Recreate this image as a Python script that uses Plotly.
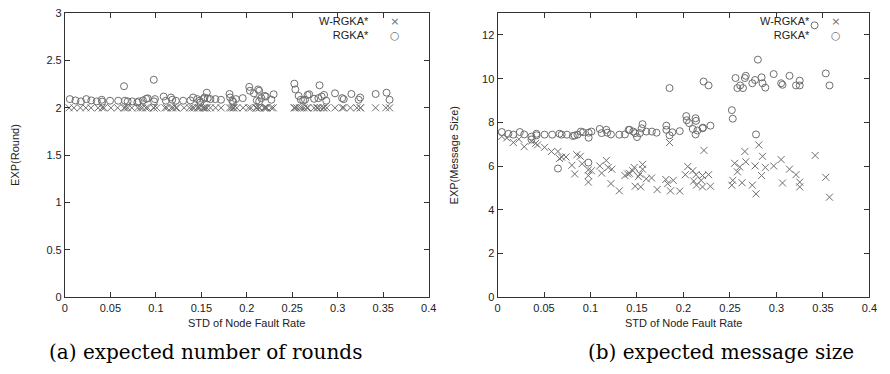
import plotly.graph_objects as go

# ---------------- data ----------------
# (a) expected number of rounds
rounds_rgka_x = [0.0054, 0.0116, 0.0177, 0.0235, 0.029, 0.035, 0.0405, 0.041, 0.0496, 0.0586,
                 0.065, 0.066, 0.069, 0.074, 0.0796, 0.081, 0.0858, 0.0894, 0.091, 0.0977,
                 0.098, 0.099, 0.1086, 0.111, 0.1166, 0.118, 0.122, 0.130, 0.138, 0.141,
                 0.1455, 0.148, 0.149, 0.152, 0.1535, 0.156, 0.157, 0.160, 0.1655, 0.1716,
                 0.181, 0.1817, 0.184, 0.185, 0.188, 0.1955, 0.2027, 0.2034, 0.2078, 0.211,
                 0.2125, 0.2136, 0.2136, 0.216, 0.2197, 0.221, 0.227, 0.2295, 0.2523, 0.2534,
                 0.257, 0.2595, 0.262, 0.264, 0.2668, 0.2686, 0.274, 0.2787, 0.280, 0.2823,
                 0.285, 0.2874, 0.297, 0.3048, 0.3066, 0.315, 0.323, 0.3247, 0.3417, 0.3537,
                 0.357]
rounds_rgka_y = [2.092, 2.078, 2.068, 2.092, 2.078, 2.068, 2.085, 2.065, 2.075, 2.075,
                 2.228, 2.075, 2.068, 2.068, 2.058, 2.068, 2.078, 2.095, 2.100, 2.296,
                 2.068, 2.092, 2.119, 2.075, 2.109, 2.085, 2.075, 2.075, 2.078, 2.109,
                 2.092, 2.075, 2.058, 2.092, 2.109, 2.160, 2.100, 2.092, 2.092, 2.085,
                 2.146, 2.109, 2.075, 2.065, 2.092, 2.102, 2.221, 2.180, 2.153, 2.078,
                 2.194, 2.180, 2.068, 2.102, 2.126, 2.119, 2.085, 2.143, 2.255, 2.194,
                 2.126, 2.085, 2.078, 2.085, 2.136, 2.143, 2.095, 2.102, 2.238, 2.119,
                 2.136, 2.075, 2.153, 2.102, 2.092, 2.146, 2.085, 2.109, 2.146, 2.160,
                 2.085]

# W-RGKA* shares the same experiment positions in both panels
wrgka_x = [0.0046, 0.0099, 0.017, 0.023, 0.0287, 0.0365, 0.041, 0.043, 0.0506, 0.058,
           0.065, 0.0666, 0.069, 0.0736, 0.080, 0.083, 0.0853, 0.089, 0.091, 0.0977,
           0.0977, 0.0977, 0.101, 0.110, 0.112, 0.117, 0.119, 0.123, 0.122, 0.131,
           0.137, 0.140, 0.142, 0.1455, 0.147, 0.148, 0.1515, 0.153, 0.154, 0.156,
           0.156, 0.160, 0.1657, 0.1717, 0.181, 0.183, 0.185, 0.186, 0.189, 0.196,
           0.202, 0.2046, 0.210, 0.211, 0.2135, 0.214, 0.219, 0.2205, 0.2205, 0.222,
           0.227, 0.229, 0.252, 0.253, 0.255, 0.258, 0.2605, 0.263, 0.266, 0.267,
           0.274, 0.277, 0.278, 0.281, 0.285, 0.284, 0.288, 0.297, 0.305, 0.3065,
           0.314, 0.321, 0.325, 0.325, 0.3416, 0.353, 0.357]
rounds_wrgka_y = [2.0, 2.0, 2.0, 2.0, 2.0, 2.0, 2.0, 2.0, 2.0, 2.0,
                  2.0, 2.0, 2.0, 2.0, 2.0, 2.0, 2.0, 2.0, 2.0, 2.0,
                  2.0, 2.0, 2.0, 2.0, 2.0, 2.0, 2.0, 2.0, 2.0, 2.0,
                  2.0, 2.0, 2.0, 2.0, 2.0, 2.0, 2.0, 2.0, 2.0, 2.0,
                  2.0, 2.0, 2.0, 2.0, 2.0, 2.0, 2.0, 2.0, 2.0, 2.0,
                  2.0, 2.0, 2.0, 2.0, 2.0, 2.0, 2.0, 2.0, 2.0, 2.0,
                  2.0, 2.0, 2.0, 2.0, 2.0, 2.0, 2.0, 2.0, 2.0, 2.0,
                  2.0, 2.0, 2.0, 2.0, 2.0, 2.0, 2.0, 2.0, 2.0, 2.0,
                  2.0, 2.0, 2.0, 2.0, 2.0, 2.0, 2.0]

# (b) expected message size
msg_wrgka_y = [7.36, 7.29, 7.08, 7.23, 6.89, 7.14, 7.04, 6.97, 6.86, 6.67,
               6.67, 6.35, 6.41, 6.42, 6.04, 5.64, 6.52, 6.45, 6.11, 5.83,
               5.57, 5.27, 5.79, 6.01, 5.68, 6.26, 5.94, 5.86, 5.20, 4.87,
               5.57, 5.64, 5.67, 5.79, 5.94, 5.08, 5.52, 5.64, 5.05, 5.86,
               6.08, 5.42, 5.46, 4.93, 5.39, 5.20, 7.08, 4.87, 5.35, 4.86,
               5.61, 5.98, 5.79, 5.32, 5.61, 5.13, 5.35, 5.57, 5.05, 6.72,
               5.61, 5.08, 5.13, 5.35, 6.13, 5.74, 5.96, 5.24, 6.67, 6.20,
               5.13, 6.01, 4.73, 6.97, 6.45, 5.57, 5.94, 6.01, 6.30, 5.23,
               5.86, 5.61, 5.27, 5.05, 6.49, 5.49, 4.58]

msg_rgka_x = [0.0046, 0.0117, 0.017, 0.024, 0.0287, 0.0365, 0.0365, 0.0418, 0.042, 0.0506,
              0.0588, 0.0666, 0.069, 0.0747, 0.081, 0.083, 0.086, 0.0896, 0.092, 0.098,
              0.098, 0.101, 0.110, 0.112, 0.117, 0.118, 0.122, 0.131, 0.137, 0.141,
              0.142, 0.146, 0.148, 0.150, 0.153, 0.155, 0.156, 0.160, 0.166, 0.171,
              0.1816, 0.1816, 0.185, 0.185, 0.188, 0.196, 0.203, 0.2035, 0.206, 0.210,
              0.213, 0.2135, 0.213, 0.215, 0.2205, 0.221, 0.2216, 0.227, 0.229, 0.252,
              0.253, 0.256, 0.258, 0.261, 0.264, 0.266, 0.267, 0.274, 0.277, 0.278,
              0.280, 0.284, 0.285, 0.288, 0.297, 0.305, 0.3065, 0.314, 0.321, 0.325,
              0.325, 0.341, 0.353, 0.357, 0.065, 0.0977]
msg_rgka_y = [7.56, 7.48, 7.44, 7.56, 7.45, 7.35, 7.22, 7.48, 7.41, 7.44,
              7.44, 7.48, 7.44, 7.44, 7.38, 7.40, 7.44, 7.58, 7.55, 7.53,
              7.30, 7.58, 7.70, 7.51, 7.66, 7.53, 7.45, 7.44, 7.45, 7.66,
              7.66, 7.58, 7.51, 7.33, 7.51, 7.73, 7.92, 7.58, 7.58, 7.53,
              7.85, 7.66, 9.57, 7.41, 7.55, 7.60, 8.29, 8.10, 7.97, 7.70,
              8.19, 8.07, 7.45, 7.63, 7.73, 7.76, 9.87, 9.69, 7.85, 8.56,
              8.17, 10.03, 9.57, 9.69, 9.57, 10.03, 10.13, 9.79, 9.94, 7.45,
              10.87, 10.06, 9.79, 9.59, 10.21, 9.79, 9.72, 10.13, 9.69, 9.91,
              9.69, 12.44, 10.24, 9.69, 5.89, 6.16]

x_ticks = [0, 0.05, 0.1, 0.15, 0.2, 0.25, 0.3, 0.35, 0.4]
rounds_ticks = [0, 0.5, 1, 1.5, 2, 2.5, 3]
msg_ticks = [0, 2, 4, 6, 8, 10, 12]

series_names = ["W-RGKA*", "RGKA*"]
x_title = "STD of Node Fault Rate"
y_titles = ["EXP(Round)", "EXP(Message Size)"]
captions = ["(a) expected number of rounds", "(b) expected message size"]

# ---------------- styling ----------------
W, H = 890, 374
MARK = "#6e6e6e"
AX = "#333333"
SANS = "Liberation Sans, Arial, sans-serif"
SERIF = "DejaVu Serif, serif"

L_X0, L_X1 = 62.7, 431.0
R_X0, R_X1 = 500.7, 877.3
Y_TOP, Y_BOT = 7.3, 301.0

def px(x):
    return x / W

def py(y):
    return 1 - y / H

fig = go.Figure()

x_marker = dict(symbol="x-thin-open", size=7, color=MARK, line=dict(color=MARK, width=1))
o_marker = dict(symbol="circle-open", size=7, color=MARK, line=dict(color=MARK, width=1))

fig.add_trace(go.Scatter(x=wrgka_x, y=rounds_wrgka_y, mode="markers", marker=x_marker,
                         name=series_names[0], xaxis="x", yaxis="y", showlegend=False))
fig.add_trace(go.Scatter(x=rounds_rgka_x, y=rounds_rgka_y, mode="markers", marker=o_marker,
                         name=series_names[1], xaxis="x", yaxis="y", showlegend=False))
fig.add_trace(go.Scatter(x=wrgka_x, y=msg_wrgka_y, mode="markers", marker=x_marker,
                         name=series_names[0], xaxis="x2", yaxis="y2", showlegend=False))
fig.add_trace(go.Scatter(x=msg_rgka_x, y=msg_rgka_y, mode="markers", marker=o_marker,
                         name=series_names[1], xaxis="x2", yaxis="y2", showlegend=False))

axis_common = dict(showline=True, mirror="ticks", linecolor=AX, linewidth=1,
                   ticks="inside", ticklen=5, tickcolor=AX, tickwidth=1,
                   showgrid=False, zeroline=False,
                   tickfont=dict(family=SANS, size=11, color="#222222"))

fig.update_layout(
    width=W, height=H,
    margin=dict(l=0, r=0, t=0, b=0),
    paper_bgcolor="white", plot_bgcolor="white",
    xaxis=dict(domain=[px(L_X0), px(L_X1)], range=[0, 0.4], tickvals=x_ticks,
               anchor="y", **axis_common),
    yaxis=dict(domain=[py(Y_BOT), py(Y_TOP)], range=[0, 3], tickvals=rounds_ticks,
               anchor="x", **axis_common),
    xaxis2=dict(domain=[px(R_X0), px(R_X1)], range=[0, 0.4], tickvals=x_ticks,
                anchor="y2", **axis_common),
    yaxis2=dict(domain=[py(Y_BOT), py(Y_TOP)], range=[0, 13], tickvals=msg_ticks,
                anchor="x2", **axis_common),
    showlegend=False,
)

ann = []
for x0, x1, ytitle, cap, cap_x, cap_anchor, ytitle_x in [
        (L_X0, L_X1, y_titles[0], captions[0], 205, "center", 12),
        (R_X0, R_X1, y_titles[1], captions[1], 864, "right", 457)]:
    # x-axis title
    ann.append(dict(text=x_title, xref="paper", yref="paper", x=px((x0 + x1) / 2), y=py(328),
                    showarrow=False, xanchor="center", yanchor="middle",
                    font=dict(family=SANS, size=11, color="#222222")))
    # y-axis title
    ann.append(dict(text=ytitle, xref="paper", yref="paper", x=px(ytitle_x), y=py(154),
                    showarrow=False, textangle=-90, xanchor="center", yanchor="middle",
                    font=dict(family=SANS, size=11, color="#222222")))
    # caption
    ann.append(dict(text=cap, xref="paper", yref="paper", x=px(cap_x), y=py(357),
                    showarrow=False, xanchor=cap_anchor, yanchor="middle",
                    font=dict(family=SERIF, size=20, color="black")))
    # legend (gnuplot style: text then symbol)
    ann.append(dict(text="<br>".join(series_names), xref="paper", yref="paper",
                    x=px(x1 - 58), y=py(23), showarrow=False, xanchor="right", yanchor="middle",
                    align="right", font=dict(family=SANS, size=11, color="#222222")))
    ann.append(dict(text="\u00d7<br>\u25cb", xref="paper", yref="paper",
                    x=px(x1 - 34), y=py(23), showarrow=False, xanchor="center", yanchor="middle",
                    align="center", font=dict(family="DejaVu Sans", size=11, color=MARK)))

fig.update_layout(annotations=ann)

fig.write_html("out.html", config={"displayModeBar": False},
               post_script="document.body.style.margin='0';")
